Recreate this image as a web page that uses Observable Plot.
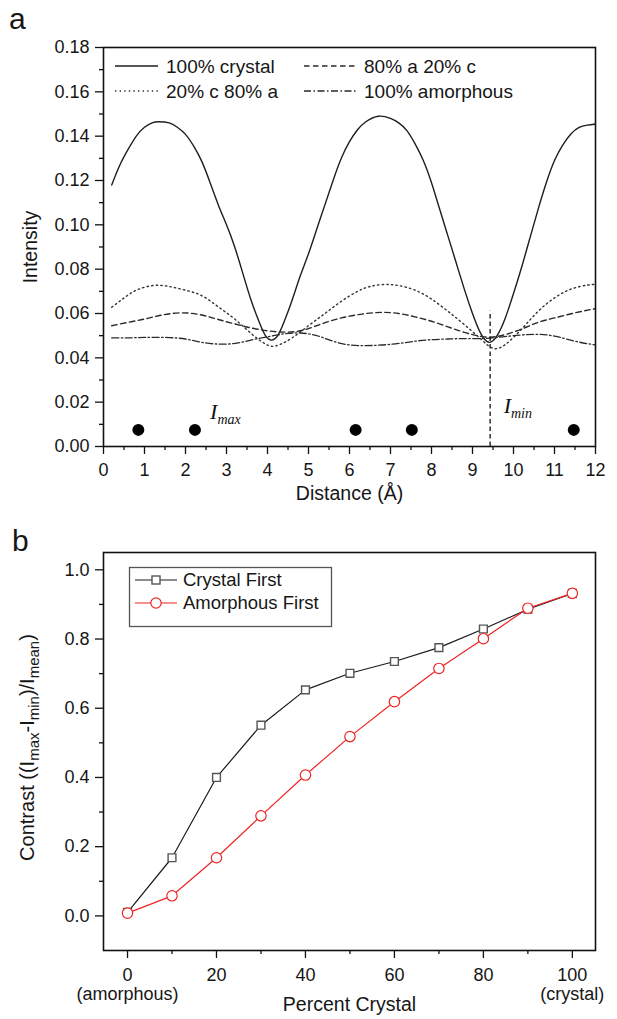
<!DOCTYPE html>
<html><head><meta charset="utf-8">
<script src="https://cdn.jsdelivr.net/npm/d3@7"></script>
<script src="https://cdn.jsdelivr.net/npm/@observablehq/plot@0.6"></script>
<style>
html,body{margin:0;padding:0;background:#fff;}
#wrap{position:relative;width:617px;height:1019px;overflow:hidden;}
#wrap > svg{position:absolute;left:0;}
</style></head><body><div id="wrap"></div>
<script>
// ---------- Panel a data ----------
const crystalX = [0.2,0.4,0.6,0.8,1.0,1.2,1.35,1.6,1.8,2.0,2.2,2.4,2.6,2.8,3.0,3.2,3.4,3.6,3.8,3.95,4.1,4.25,4.4,4.6,4.8,5.0,5.2,5.4,5.6,5.8,6.0,6.2,6.4,6.7,7.0,7.2,7.4,7.6,7.8,8.0,8.2,8.4,8.6,8.8,9.0,9.2,9.4,9.6,9.8,10.0,10.2,10.4,10.6,10.8,11.0,11.2,11.4,11.6,11.8,12.0];
const crystalY = [0.118,0.127,0.134,0.140,0.144,0.1461,0.1465,0.146,0.144,0.1408,0.1355,0.1285,0.119,0.109,0.100,0.090,0.078,0.066,0.056,0.050,0.048,0.050,0.056,0.066,0.077,0.087,0.098,0.109,0.120,0.130,0.1375,0.143,0.1465,0.149,0.148,0.146,0.1425,0.1365,0.129,0.119,0.107,0.095,0.083,0.071,0.060,0.051,0.047,0.050,0.058,0.069,0.081,0.094,0.107,0.119,0.129,0.136,0.141,0.144,0.145,0.1455];

const mix80aX = [0.2,0.6,1.0,1.4,1.9,2.4,2.8,3.2,3.6,4.0,4.4,4.8,5.2,5.6,6.0,6.4,6.8,7.2,7.6,8.0,8.4,8.8,9.2,9.5,9.8,10.2,10.6,11.0,11.5,12.0];
const mix80aY = [0.0545,0.0560,0.0575,0.0592,0.0603,0.0593,0.0573,0.0553,0.0535,0.0522,0.0516,0.0522,0.0545,0.0570,0.0588,0.0600,0.0605,0.0600,0.0585,0.0565,0.0540,0.0515,0.0497,0.0494,0.0505,0.0530,0.0560,0.0580,0.0603,0.0622];

const mix20cX = [0.2,0.5,0.8,1.2,1.6,2.0,2.4,2.8,3.2,3.6,3.9,4.1,4.3,4.6,5.0,5.4,5.8,6.2,6.5,6.85,7.2,7.6,8.0,8.4,8.8,9.2,9.5,9.8,10.2,10.6,11.0,11.4,11.8,12.0];
const mix20cY = [0.0628,0.0670,0.0705,0.0726,0.0722,0.0705,0.0680,0.0630,0.0575,0.0510,0.0468,0.0452,0.0460,0.0490,0.0545,0.0600,0.0655,0.0700,0.0722,0.0731,0.0726,0.0705,0.0665,0.0610,0.0550,0.0485,0.0443,0.0460,0.0530,0.0610,0.0670,0.0710,0.0728,0.0731];

const amorphX = [0.2,0.6,1.0,1.5,2.0,2.4,2.8,3.2,3.6,4.0,4.4,4.8,5.2,5.6,6.0,6.4,6.8,7.2,7.6,8.0,8.4,8.8,9.2,9.6,10.0,10.5,11.0,11.5,12.0];
const amorphY = [0.0490,0.0490,0.0492,0.0492,0.0485,0.0470,0.0462,0.0465,0.0480,0.0495,0.0508,0.0512,0.0500,0.0475,0.0458,0.0455,0.0458,0.0465,0.0475,0.0482,0.0485,0.0487,0.0487,0.0492,0.0500,0.0506,0.0498,0.0475,0.0458];

const seriesNamesA = ["100% crystal", "80% a 20% c", "20% c 80% a", "100% amorphous"];

const markerDotX = [0.85, 2.23, 6.15, 7.52, 11.47];
const markerDotY = [0.0075, 0.0075, 0.0075, 0.0075, 0.0075];
const iMinLineX = 9.43, iMinLineTop = 0.061;
const iMaxLabel = {x: 2.6, y: 0.0156, text: "Imax"};
const iMinLabel = {x: 9.76, y: 0.0185, text: "Imin"};

const xTicksA = [0,1,2,3,4,5,6,7,8,9,10,11,12];
const xMinorA = [0.5,1.5,2.5,3.5,4.5,5.5,6.5,7.5,8.5,9.5,10.5,11.5];
const yTicksA = [0,0.02,0.04,0.06,0.08,0.10,0.12,0.14,0.16,0.18];
const yTickLabelsA = ["0.00","0.02","0.04","0.06","0.08","0.10","0.12","0.14","0.16","0.18"];
const yMinorA = [0.01,0.03,0.05,0.07,0.09,0.11,0.13,0.15,0.17];

// ---------- Panel b data ----------
const percentCrystal = [0,10,20,30,40,50,60,70,80,90,100];
const crystalFirst   = [0.010,0.168,0.400,0.551,0.653,0.701,0.735,0.775,0.829,0.886,0.932];
const amorphousFirst = [0.008,0.058,0.168,0.289,0.407,0.518,0.619,0.715,0.801,0.889,0.932];
const seriesNamesB = ["Crystal First", "Amorphous First"];

const xTicksB = [0,20,40,60,80,100];
const xTickLabelsB = ["0\n(amorphous)","20","40","60","80","100\n(crystal)"];
const xMinorB = [10,30,50,70,90];
const yTicksB = [0,0.2,0.4,0.6,0.8,1.0];
const yTickLabelsB = ["0.0","0.2","0.4","0.6","0.8","1.0"];
const yMinorB = [0.1,0.3,0.5,0.7,0.9];

// ---------- styling ----------
const FONT = '"Liberation Sans", Arial, Helvetica, sans-serif';
const INK = "#161616";
const RED = "#ee2424";
const zip = (xs, ys) => xs.map((x, i) => ({x, y: ys[i]}));
const lookup = (ticks, labels) => d => { const i = ticks.findIndex(t => Math.abs(t - d) < 1e-9); return i >= 0 ? labels[i] : ""; };

const wrap = document.getElementById("wrap");

// ---------- Panel a ----------
const lineStyles = [
  {data: zip(crystalX, crystalY), dash: null, stroke: "#1e1e1e", w: 1.4},
  {data: zip(mix80aX, mix80aY), dash: "5.5,3.5", stroke: "#2a2a2a", w: 1.4},
  {data: zip(mix20cX, mix20cY), dash: "1.4,3.2", stroke: "#333", w: 1.4},
  {data: zip(amorphX, amorphY), dash: "7,2.5,1.5,2.5", stroke: "#2a2a2a", w: 1.3}
];

const plotA = Plot.plot({
  width: 617, height: 510,
  marginLeft: 103, marginRight: 22, marginTop: 47, marginBottom: 64,
  style: {fontFamily: FONT, fontSize: "18px", color: INK, background: "white", overflow: "visible"},
  x: {domain: [0, 12]},
  y: {domain: [0, 0.18]},
  marks: [
    ...lineStyles.map(s => Plot.line(s.data, {x: "x", y: "y", stroke: s.stroke, strokeWidth: s.w, strokeDasharray: s.dash, curve: "natural"})),
    Plot.ruleX([iMinLineX], {y1: 0, y2: iMinLineTop, stroke: "#111", strokeWidth: 1.3, strokeDasharray: "4.5,3"}),
    Plot.dot(zip(markerDotX, markerDotY), {x: "x", y: "y", r: 6, fill: "#000", stroke: "none"}),
    Plot.text([iMaxLabel, iMinLabel], {x: "x", y: "y", text: "text", textAnchor: "start", fontFamily: '"Liberation Serif", "Times New Roman", serif', fontStyle: "italic", fontSize: 22, fill: "#111"}),
    Plot.axisX({ticks: xTicksA, tickSize: 8, tickPadding: 9, label: null, tickFormat: d => String(d), stroke: "#111", strokeWidth: 1.3}),
    Plot.axisX({ticks: xMinorA, tickSize: 4, label: null, tickFormat: () => "", stroke: "#111", strokeWidth: 1.3}),
    Plot.axisY({ticks: yTicksA, tickSize: 8, tickPadding: 6, label: null, tickFormat: lookup(yTicksA, yTickLabelsA), stroke: "#111", strokeWidth: 1.3}),
    Plot.axisY({ticks: yMinorA, tickSize: 4, label: null, tickFormat: () => "", stroke: "#111", strokeWidth: 1.3}),
    Plot.frame({stroke: "#111", strokeWidth: 1.6}),
    Plot.text(["Intensity"], {frameAnchor: "left", textAnchor: "middle", rotate: -90, dx: -73, fontSize: 19.5, fill: INK}),
    Plot.text(["Distance (Å)"], {frameAnchor: "bottom", textAnchor: "middle", dy: 53, fontSize: 19.5, fill: INK})
  ]
});
plotA.style.top = "0px";
wrap.appendChild(plotA);

// ---------- Panel b ----------
const dataCF = zip(percentCrystal, crystalFirst);
const dataAF = zip(percentCrystal, amorphousFirst);

const plotB = Plot.plot({
  width: 617, height: 509,
  marginLeft: 103, marginRight: 22, marginTop: 42, marginBottom: 69,
  style: {fontFamily: FONT, fontSize: "18px", color: INK, background: "white", overflow: "visible"},
  x: {domain: [-5.4, 105.2]},
  y: {domain: [-0.1, 1.05]},
  marks: [
    Plot.line(dataCF, {x: "x", y: "y", stroke: "#1a1a1a", strokeWidth: 1.2}),
    Plot.line(dataAF, {x: "x", y: "y", stroke: RED, strokeWidth: 1.2}),
    Plot.dot(dataCF, {x: "x", y: "y", symbol: "square", r: 4.4, fill: "white", stroke: "#555", strokeWidth: 1.4}),
    Plot.dot(dataAF, {x: "x", y: "y", symbol: "circle", r: 5.2, fill: "white", stroke: RED, strokeWidth: 1.2}),
    Plot.axisX({ticks: xTicksB, tickSize: 8, tickPadding: 9, label: null, tickFormat: lookup(xTicksB, xTickLabelsB), lineHeight: 1.05, stroke: "#111", strokeWidth: 1.3}),
    Plot.axisX({ticks: xMinorB, tickSize: 4, label: null, tickFormat: () => "", stroke: "#111", strokeWidth: 1.3}),
    Plot.axisY({ticks: yTicksB, tickSize: 8, tickPadding: 6, label: null, tickFormat: lookup(yTicksB, yTickLabelsB), stroke: "#111", strokeWidth: 1.3}),
    Plot.axisY({ticks: yMinorB, tickSize: 4, label: null, tickFormat: () => "", stroke: "#111", strokeWidth: 1.3}),
    Plot.frame({stroke: "#111", strokeWidth: 1.6}),
    Plot.text(["Contrast ((Imax-Imin)/Imean)"], {frameAnchor: "left", textAnchor: "middle", rotate: -90, dx: -76, dy: -4, fontSize: 20, fill: INK}),
    Plot.text(["Percent Crystal"], {frameAnchor: "bottom", textAnchor: "middle", dy: 60, fontSize: 19.5, fill: INK})
  ]
});
plotB.style.top = "510px";
wrap.appendChild(plotB);

// ---------- subscripts ----------
function subscriptify(svg, map) {
  d3.select(svg).selectAll("text").each(function () {
    const parts = map[this.textContent];
    if (!parts) return;
    const el = d3.select(this);
    while (this.firstChild) this.removeChild(this.firstChild);
    let shifted = 0;
    parts.forEach(([txt, sub, size, shift]) => {
      const t = el.append("tspan").text(txt);
      if (sub) { t.attr("dy", shift).attr("font-size", size); shifted = shift; }
      else if (shifted) { t.attr("dy", -shifted); shifted = 0; }
    });
  });
}
subscriptify(plotA, {
  "Imax": [["I"], ["max", true, 14, 5]],
  "Imin": [["I"], ["min", true, 14, 5]]
});
subscriptify(plotB, {
  "Contrast ((Imax-Imin)/Imean)": [["Contrast ((I"], ["max", true, 15, 5], ["-I"], ["min", true, 15, 5], [")/I"], ["mean", true, 15, 5], [")"]]
});

// ---------- overlay: panel letters and legends ----------
const ov = d3.select(wrap).append("svg")
  .attr("width", 617).attr("height", 1019)
  .style("top", "0px").style("pointer-events", "none")
  .style("font-family", FONT);

ov.append("text").attr("x", 9).attr("y", 29).attr("font-size", 30).attr("fill", INK).text("a");
ov.append("text").attr("x", 12).attr("y", 551).attr("font-size", 30).attr("fill", INK).text("b");

// legend a
const legA = [
  {x: 115, y: 66, name: seriesNamesA[0], s: lineStyles[0]},
  {x: 304, y: 66, name: seriesNamesA[1], s: lineStyles[1]},
  {x: 115, y: 91, name: seriesNamesA[2], s: lineStyles[2]},
  {x: 304, y: 91, name: seriesNamesA[3], s: lineStyles[3]}
];
legA.forEach((d, i) => {
  const len = i % 2 === 0 ? 43 : 52;
  ov.append("line").attr("x1", d.x).attr("x2", d.x + len).attr("y1", d.y).attr("y2", d.y)
    .attr("stroke", d.s.stroke).attr("stroke-width", d.s.w).attr("stroke-dasharray", d.s.dash);
  ov.append("text").attr("x", d.x + len + 8).attr("y", d.y).attr("dy", "0.35em")
    .attr("font-size", 19).attr("fill", INK).text(d.name);
});

// legend b
ov.append("rect").attr("x", 129.5).attr("y", 567.5).attr("width", 202).attr("height", 59)
  .attr("fill", "white").attr("stroke", "#555").attr("stroke-width", 1.3);
const legB = [
  {y: 580, name: seriesNamesB[0], stroke: "#1a1a1a", mark: "square"},
  {y: 603, name: seriesNamesB[1], stroke: RED, mark: "circle"}
];
legB.forEach(d => {
  ov.append("line").attr("x1", 135).attr("x2", 177).attr("y1", d.y).attr("y2", d.y)
    .attr("stroke", d.stroke).attr("stroke-width", 1.2);
  if (d.mark === "square") {
    ov.append("rect").attr("x", 152).attr("y", d.y - 4).attr("width", 8).attr("height", 8)
      .attr("fill", "white").attr("stroke", "#555").attr("stroke-width", 1.4);
  } else {
    ov.append("circle").attr("cx", 156).attr("cy", d.y).attr("r", 5.2)
      .attr("fill", "white").attr("stroke", RED).attr("stroke-width", 1.2);
  }
  ov.append("text").attr("x", 183).attr("y", d.y).attr("dy", "0.35em")
    .attr("font-size", 18.5).attr("fill", INK).text(d.name);
});
</script></body></html>
